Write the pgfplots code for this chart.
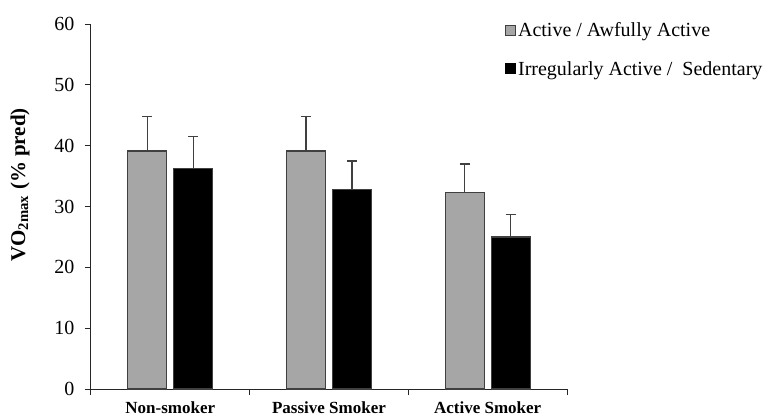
\documentclass[border=0pt]{standalone}
\usepackage{fontspec}
\setmainfont{Liberation Serif}
\usepackage{pgfplots}
\pgfplotsset{compat=1.18}
\definecolor{bargray}{HTML}{A6A6A6}
\definecolor{edge}{HTML}{404040}
\begin{document}
\begin{tikzpicture}[x=1pt,y=1pt]
\useasboundingbox (0,0) rectangle (769,416);
\begin{axis}[
  at={(91pt,27pt)}, anchor=south west,
  scale only axis, width=476pt, height=365pt,
  xmin=0, xmax=3, ymin=0, ymax=60,
  axis x line*=bottom, axis y line*=left,
  axis line style={line width=1pt, color=black!85},
  xtick={0,1,2,3}, xticklabels={},
  extra x ticks={0.5,1.5,2.5},
  extra x tick labels={Non-smoker,Passive Smoker,Active Smoker},
  extra x tick style={major tick length=0pt, tick label style={font=\fontsize{17}{17}\selectfont\bfseries, yshift=-9pt}},
  ytick={0,10,...,60},
  tick align=outside, major tick length=6pt,
  tick style={line width=1pt, color=black!85},
  /pgf/number format/assume math mode=true,
  yticklabel style={font=\fontsize{20}{20}\selectfont, xshift=-7pt},
  ylabel={\textbf{VO\textsubscript{2max} (\% pred)}},
  ylabel style={font=\fontsize{21}{21}\selectfont, at={(axis description cs:-0.149,0.56)}, anchor=center, rotate=0},
  ybar, bar width=39pt,
  legend style={at={(axis description cs:0.87,1.01)}, anchor=north west, draw=none, fill=none,
    font=\fontsize{20}{20}\selectfont, row sep=19pt, inner sep=0pt,
    /tikz/every even column/.append style={column sep=2pt}},
  legend cell align=left,
  clip=false,
]
\addplot[ybar, bar shift=-23pt, fill=bargray, draw=edge, line width=1.3pt,
  legend image code/.code={\draw[fill=bargray, draw=edge, line width=0.8pt] (0pt,-5pt) rectangle (10pt,5pt);},
  error bars/.cd, y dir=plus, y explicit,
  error bar style={line width=1.3pt, color=edge},
  error mark options={rotate=90, mark size=5pt, line width=1.3pt, color=edge}]
  table[x=x, y=y, y error=e] {
x y e
0.5 39.1 5.7
1.5 39.1 5.7
2.5 32.3 4.7
};
\addlegendentry{Active / Awfully Active}
\addplot[ybar, bar shift=23pt, fill=black, draw=edge, line width=1.3pt,
  legend image code/.code={\draw[fill=black, draw=black, line width=0.8pt] (0pt,-5pt) rectangle (10pt,5pt);},
  error bars/.cd, y dir=plus, y explicit,
  error bar style={line width=1.3pt, color=edge},
  error mark options={rotate=90, mark size=5pt, line width=1.3pt, color=edge}]
  table[x=x, y=y, y error=e] {
x y e
0.5 36.2 5.3
1.5 32.8 4.7
2.5 25.0 3.7
};
\addlegendentry{Irregularly Active /\ \ Sedentary}
\end{axis}
\end{tikzpicture}
\end{document}
